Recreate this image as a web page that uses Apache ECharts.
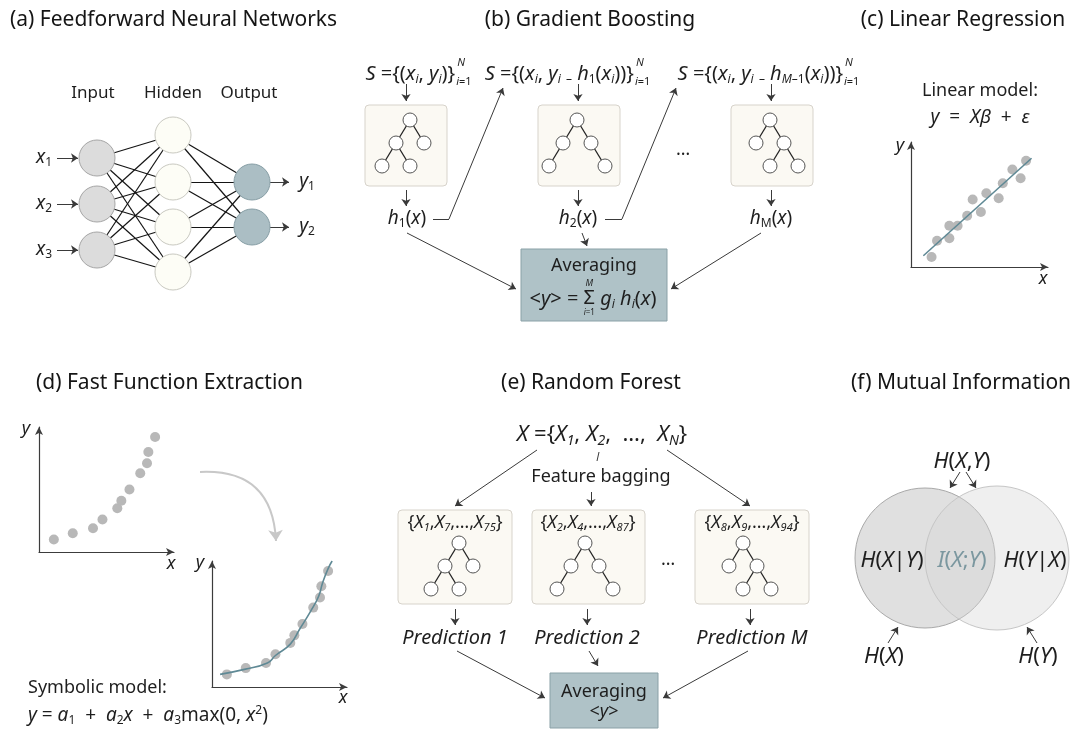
<!DOCTYPE html>
<html>
<head>
<meta charset="utf-8">
<script src="https://cdn.jsdelivr.net/npm/echarts@6/dist/echarts.min.js"></script>
<style>
  html, body { margin: 0; padding: 0; background: #ffffff; }
  #chart { width: 1089px; height: 729px; }
</style>
</head>
<body>
<div id="chart"></div>
<script>
// ---------- data ----------
// (a) feed-forward network, node centres on the layout plane
const inputNodes  = [[97, 158], [97, 204], [97, 250]];
const hiddenNodes = [[173, 135], [173, 182], [173, 227], [173, 272]];
const outputNodes = [[252, 182], [252, 227]];

// (c) linear regression sample and fitted line
const linX = [1.5, 1.9, 2.8, 2.8, 3.4, 4.1, 4.5, 5.1, 5.5, 6.4, 6.7, 7.4, 8.0, 8.4];
const linY = [0.8, 2.1, 2.3, 3.3, 3.3, 4.1, 5.4, 4.4, 5.9, 5.5, 6.7, 7.8, 7.1, 8.5];
const linFitX = [0.9, 8.8];
const linFitY = [0.9, 8.7];

// (d) sample for the symbolic fit and the fitted curve
const feX = [1.1, 2.5, 4.0, 4.7, 5.8, 6.1, 6.7, 7.5, 8.0, 8.1, 8.6];
const feY = [1.0, 1.5, 1.9, 2.6, 3.5, 4.1, 5.0, 6.3, 7.1, 8.0, 9.2];
const feCurveX = [0.6, 2.4, 4.1, 4.7, 5.8, 6.5, 7.3, 7.9, 8.2, 8.6, 8.9];
const feCurveY = [1.0, 1.4, 1.9, 2.5, 3.4, 4.6, 6.0, 7.2, 8.3, 9.4, 10.0];

// decision-tree panels [x0, y0, x1, y1] and their trees [rootX, rootY, shape]
const treeBoxes = [[365, 105, 447, 186], [538, 105, 620, 186], [731, 105, 813, 186],
                   [398, 510, 512, 604], [532, 510, 645, 604], [695, 510, 809, 604]];
const treeRoots = [[410, 120, 'A'], [577, 120, 'B'], [770, 120, 'C'],
                   [459, 543, 'A'], [585, 543, 'B'], [743, 543, 'C']];
const treeShapes = {
  A: { nodes: [[0, 0], [-1, 1], [1, 1], [-2, 2], [0, 2]], edges: [[0, 1], [0, 2], [1, 3], [1, 4]] },
  B: { nodes: [[0, 0], [-1, 1], [1, 1], [-2, 2], [2, 2]], edges: [[0, 1], [0, 2], [1, 3], [2, 4]] },
  C: { nodes: [[0, 0], [-1, 1], [1, 1], [0, 2], [2, 2]], edges: [[0, 1], [0, 2], [2, 3], [2, 4]] }
};
const averagingBoxes = [[521, 249, 667, 321], [550, 673, 658, 728]];

// connectors with an arrow head
const arrows = [
  [[57, 158], [78, 158]], [[57, 204], [78, 204]], [[57, 250], [78, 250]],
  [[270, 182], [289, 182]], [[270, 227], [289, 227]],
  [[406, 84], [406, 101]], [[578, 84], [578, 101]], [[771, 84], [771, 101]],
  [[406, 190], [406, 206]], [[578, 190], [578, 206]], [[771, 190], [771, 206]],
  [[449, 219], [503, 88]], [[622, 219], [676, 88]],
  [[407, 233], [516, 289]], [[582, 233], [587, 246]], [[761, 233], [671, 289]],
  [[591, 492], [591, 506]], [[537, 450], [455, 506]], [[667, 450], [750, 506]],
  [[455, 609], [455, 625]], [[587, 609], [587, 625]], [[750, 609], [750, 625]],
  [[457, 651], [545, 698]], [[589, 651], [598, 666]], [[748, 651], [663, 698]],
  [[960, 472], [950, 488]], [[966, 472], [976, 488]],
  [[888, 643], [898, 627]], [[1037, 643], [1027, 627]]
];
// connectors without a head
const plainLinks = [[[433, 219], [449, 219]], [[605, 219], [622, 219]], [[599, 452], [597, 461]]];
const bendArrow = [[[200, 472], [276, 541]]];

// (f) entropy circles [cx, cy, r]
const vennLeft = [925, 558, 70];
const vennRight = [997, 558, 72];

// ---------- styling ----------
const FONT = '"Noto Sans", Lato, "DejaVu Sans", sans-serif';
const INK = '#1e1e1e';
const TEAL = '#5f8995';
const DOT = '#b8b8b8';

function richSet(size, color) {
  const sub = Math.round(size * 0.62);
  const b = { fontFamily: FONT, fill: color };
  return {
    n:  Object.assign({}, b, { fontSize: size }),
    i:  Object.assign({}, b, { fontSize: size, fontStyle: 'italic' }),
    s:  Object.assign({}, b, { fontSize: sub, padding: [Math.round(size * 0.55), 0, 0, 0] }),
    si: Object.assign({}, b, { fontSize: sub, fontStyle: 'italic', padding: [Math.round(size * 0.55), 0, 0, 0] }),
    p:  Object.assign({}, b, { fontSize: sub, padding: [0, 0, Math.round(size * 0.6), 0] })
  };
}

// width of a rich string, used to place stacked limits next to formulas
const measureCtx = document.createElement('canvas').getContext('2d');
function richWidth(text, size, italic) {
  const rich = richSet(size, INK);
  const re = /\{([a-zA-Z0-9_]+)\|([^}]*)\}/g;
  let w = 0, last = 0, m;
  const base = { fontFamily: FONT, fontSize: size, fontStyle: italic ? 'italic' : 'normal' };
  const add = (str, st) => {
    if (!str) return;
    measureCtx.font = (st.fontStyle || 'normal') + ' ' + st.fontSize + 'px ' + st.fontFamily;
    w += measureCtx.measureText(str).width;
  };
  while ((m = re.exec(text))) { add(text.slice(last, m.index), base); add(m[2], rich[m[1]]); last = re.lastIndex; }
  add(text.slice(last), base);
  return w;
}

// text items: [x, y, text, size, align, color, italic]
const titles = [
  [10, 20, '(a) Feedforward Neural Networks', 21, 'left'],
  [590, 20, '(b) Gradient Boosting', 21, 'center'],
  [963, 20, '(c) Linear Regression', 21, 'center'],
  [36, 383, '(d) Fast Function Extraction', 21, 'left'],
  [591, 383, '(e) Random Forest', 21, 'center'],
  [961, 383, '(f) Mutual Information', 21, 'center']
];
const annotations = [
  // (a)
  [93, 93, 'Input', 17], [173, 93, 'Hidden', 17], [249, 93, 'Output', 17],
  [44, 158, '{i|x}{s|1}', 19], [44, 204, '{i|x}{s|2}', 19], [44, 250, '{i|x}{s|3}', 19],
  [307, 182, '{i|y}{s|1}', 19], [307, 227, '{i|y}{s|2}', 19],
  // (b)
  [407, 219, '{i|h}{s|1}({i|x})', 19], [578, 219, '{i|h}{s|2}({i|x})', 19], [771, 219, '{i|h}{s|M}({i|x})', 19],
  [683, 150, '…', 18],
  [594, 266, 'Averaging', 18],
  // (c)
  [980, 91, 'Linear model:', 18], [980, 118, '{i|y}  =  {i|Xβ}  +  {i|ε}', 19],
  [900, 146, 'y', 18, 'center', INK, true], [1043, 279, 'x', 18, 'center', INK, true],
  // (d)
  [26, 429, 'y', 18, 'center', INK, true], [171, 564, 'x', 18, 'center', INK, true],
  [200, 563, 'y', 18, 'center', INK, true], [343, 698, 'x', 18, 'center', INK, true],
  [28, 688, 'Symbolic model:', 18, 'left'],
  [28, 716, '{i|y} = {i|a}{s|1}  +  {i|a}{s|2}{i|x}  +  {i|a}{s|3}max(0, {i|x}{p|2})', 19, 'left'],
  // (e)
  [602, 435, '{i|X} ={{i|X}{si|1}, {i|X}{si|2},  …,  {i|X}{si|N}}', 22],
  [601, 477, 'Feature bagging', 18],
  [455, 523, '{{i|X}{si|1},{i|X}{si|7},…,{i|X}{si|75}}', 18],
  [588, 523, '{{i|X}{si|2},{i|X}{si|4},…,{i|X}{si|87}}', 18],
  [752, 523, '{{i|X}{si|8},{i|X}{si|9},…,{i|X}{si|94}}', 18],
  [668, 560, '…', 18],
  [455, 638, 'Prediction 1', 20, 'center', INK, true],
  [587, 638, 'Prediction 2', 20, 'center', INK, true],
  [752, 638, 'Prediction M', 20, 'center', INK, true],
  [604, 692, 'Averaging', 18], [604, 712, '<{i|y}>', 18],
  // (f)
  [962, 462, '{i|H}({i|X},{i|Y})', 22],
  [892, 561, '{i|H}({i|X}|{i|Y})', 22],
  [962, 561, '{i|I}({i|X};{i|Y})', 22, 'center', '#7b979f'],
  [1035, 561, '{i|H}({i|Y}|{i|X})', 22],
  [884, 657, '{i|H}({i|X})', 22], [1038, 657, '{i|H}({i|Y})', 22]
];

// (b) training sets with stacked limits: [centreX, y, set]
const trainingSets = [
  [419, 74, '{i|S} ={({i|x}{si|i}, {i|y}{si|i})}'],
  [568, 74, '{i|S} ={({i|x}{si|i}, {i|y}{si|i} {s|–} {i|h}{s|1}({i|x}{si|i}))}'],
  [769, 74, '{i|S} ={({i|x}{si|i}, {i|y}{si|i} {s|–} {i|h}{si|M}{s|–1}({i|x}{si|i}))}']
];
const SET_SIZE = 20;

function textEl(t, color0) {
  const color = t[5] || color0 || INK;
  return {
    type: 'text', x: t[0], y: t[1], z: 100,
    style: {
      text: t[2], fontFamily: FONT, fontSize: t[3], fontStyle: t[6] ? 'italic' : 'normal',
      fill: color, align: t[4] || 'center', verticalAlign: 'middle', rich: richSet(t[3], color)
    }
  };
}

const formulaTexts = [];
trainingSets.forEach(([cx, y, s]) => {
  const w = richWidth(s, SET_SIZE, false);
  const wl = richWidth('{i|i}=1', 11, false);
  const x0 = cx - (w + 2 + wl) / 2;
  formulaTexts.push([x0, y, s, SET_SIZE, 'left']);
  formulaTexts.push([x0 + w + 2, y - 11, 'N', 11, 'left', INK, true]);
  formulaTexts.push([x0 + w + 1, y + 8, '{i|i}=1', 11, 'left']);
});
// weighted sum inside the averaging box
(function () {
  const left = '<{i|y}> = ', right = ' {i|g}{si|i} {i|h}{si|i}({i|x})';
  const wl = richWidth(left, 20), ws = richWidth('Σ', 20), wr = richWidth(right, 20);
  const x0 = 593 - (wl + ws + wr) / 2;
  const sx = x0 + wl + ws / 2;
  formulaTexts.push([x0, 299, left, 20, 'left']);
  formulaTexts.push([sx, 298, 'Σ', 20, 'center']);
  formulaTexts.push([sx, 283, 'M', 9, 'center', INK, true]);
  formulaTexts.push([sx, 313, '{i|i}=1', 8, 'center']);
  formulaTexts.push([x0 + wl + ws, 299, right, 20, 'left']);
})();

// ---------- derived geometry ----------
function fullLinks(a, b) {
  const out = [];
  a.forEach(p => b.forEach(q => out.push({ coords: [p, q] })));
  return out;
}
const netLinks = fullLinks(inputNodes, hiddenNodes).concat(fullLinks(hiddenNodes, outputNodes));

const TREE_DX = 14, TREE_DY = 23;
const treeNodes = [], treeLinks = [];
treeRoots.forEach(([rx, ry, k]) => {
  const sh = treeShapes[k];
  const pts = sh.nodes.map(([i, j]) => [rx + i * TREE_DX, ry + j * TREE_DY]);
  pts.forEach(p => treeNodes.push(p));
  sh.edges.forEach(([a, b]) => treeLinks.push({ coords: [pts[a], pts[b]] }));
});

const zip = (xs, ys) => xs.map((x, i) => [x, ys[i]]);

// ---------- chart ----------
const chart = echarts.init(document.getElementById('chart'));

const plotAxis = {
  type: 'value', min: 0, max: 10,
  axisLine: { show: true, onZero: false, symbol: ['none', 'arrow'], symbolSize: [6, 8],
              lineStyle: { color: '#3c3c3c', width: 1.2 } },
  axisTick: { show: false }, axisLabel: { show: false }, splitLine: { show: false }
};
const plane = { type: 'value', show: false, splitLine: { show: false } };

function boxRenderer(fill, stroke, r) {
  return function (params, api) {
    const p0 = api.coord([api.value(0), api.value(1)]);
    const p1 = api.coord([api.value(2), api.value(3)]);
    return {
      type: 'rect',
      shape: { x: p0[0], y: p0[1], width: p1[0] - p0[0], height: p1[1] - p0[1], r: r },
      style: { fill: fill, stroke: stroke, lineWidth: 1 }
    };
  };
}
function dots(xi, data, size, style) {
  return { type: 'scatter', xAxisIndex: xi, yAxisIndex: xi, data: data, symbolSize: size,
           itemStyle: Object.assign({ opacity: 1 }, style), silent: true };
}

const option = {
  animation: false,
  backgroundColor: '#ffffff',
  grid: [
    { left: 0, top: 0, width: 1089, height: 729 },
    { left: 911, top: 142, width: 137, height: 125 },
    { left: 39, top: 427, width: 135, height: 125 },
    { left: 212, top: 561, width: 135, height: 126 }
  ],
  xAxis: [
    Object.assign({ gridIndex: 0, min: 0, max: 1089 }, plane),
    Object.assign({ gridIndex: 1 }, plotAxis),
    Object.assign({ gridIndex: 2 }, plotAxis),
    Object.assign({ gridIndex: 3 }, plotAxis)
  ],
  yAxis: [
    Object.assign({ gridIndex: 0, min: 0, max: 729, inverse: true }, plane),
    Object.assign({ gridIndex: 1 }, plotAxis),
    Object.assign({ gridIndex: 2 }, plotAxis),
    Object.assign({ gridIndex: 3 }, plotAxis)
  ],
  series: [
    // panels behind trees and averaging steps
    { type: 'custom', xAxisIndex: 0, yAxisIndex: 0, data: treeBoxes, encode: { x: [0, 2], y: [1, 3] },
      renderItem: boxRenderer('#fbf9f3', '#d7d3cb', 4), silent: true },
    { type: 'custom', xAxisIndex: 0, yAxisIndex: 0, data: averagingBoxes, encode: { x: [0, 2], y: [1, 3] },
      renderItem: boxRenderer('#afc2c7', '#8aa1a7', 0), silent: true },
    // (f) entropy circles
    dots(0, [vennLeft.slice(0, 2)], vennLeft[2] * 2, { color: '#e0e0e0', borderColor: '#a9a9a9', borderWidth: 1 }),
    dots(0, [vennRight.slice(0, 2)], vennRight[2] * 2, { color: 'rgba(214,214,214,0.38)', borderColor: '#c6c6c6', borderWidth: 1 }),
    // (a) network
    { type: 'lines', coordinateSystem: 'cartesian2d', xAxisIndex: 0, yAxisIndex: 0, data: netLinks,
      lineStyle: { color: '#141414', width: 1.2, opacity: 1 }, silent: true },
    dots(0, inputNodes, 36, { color: '#dcdcdc', borderColor: '#a6a6a6', borderWidth: 1 }),
    dots(0, hiddenNodes, 36, { color: '#fdfdf6', borderColor: '#c9c9c1', borderWidth: 1 }),
    dots(0, outputNodes, 36, { color: '#abbec4', borderColor: '#889fa6', borderWidth: 1 }),
    // decision trees
    { type: 'lines', coordinateSystem: 'cartesian2d', xAxisIndex: 0, yAxisIndex: 0, data: treeLinks,
      lineStyle: { color: '#222222', width: 1.3, opacity: 1 }, silent: true },
    dots(0, treeNodes, 14, { color: '#ffffff', borderColor: '#555555', borderWidth: 1 }),
    // connectors
    { type: 'lines', coordinateSystem: 'cartesian2d', xAxisIndex: 0, yAxisIndex: 0,
      data: arrows.map(c => ({ coords: c })), symbol: ['none', 'arrow'], symbolSize: 7,
      lineStyle: { color: '#3a3a3a', width: 1, opacity: 1 }, silent: true },
    { type: 'lines', coordinateSystem: 'cartesian2d', xAxisIndex: 0, yAxisIndex: 0,
      data: plainLinks.map(c => ({ coords: c })),
      lineStyle: { color: '#3a3a3a', width: 1, opacity: 1 }, silent: true },
    { type: 'lines', coordinateSystem: 'cartesian2d', xAxisIndex: 0, yAxisIndex: 0,
      data: bendArrow.map(c => ({ coords: c })), symbol: ['none', 'arrow'], symbolSize: 11,
      lineStyle: { color: '#c8c8c8', width: 2, opacity: 1, curveness: 0.5 }, silent: true },
    // (c) linear regression
    dots(1, zip(linX, linY), 10, { color: DOT }),
    { type: 'line', xAxisIndex: 1, yAxisIndex: 1, data: zip(linFitX, linFitY), showSymbol: false,
      lineStyle: { color: TEAL, width: 1.6 }, silent: true, z: 3 },
    // (d) raw sample, then sample with fitted curve
    dots(2, zip(feX, feY), 10, { color: DOT }),
    dots(3, zip(feX, feY), 10, { color: DOT }),
    { type: 'line', xAxisIndex: 3, yAxisIndex: 3, data: zip(feCurveX, feCurveY), showSymbol: false,
      smooth: true, lineStyle: { color: TEAL, width: 1.6 }, silent: true, z: 3 }
  ],
  graphic: titles.map(t => textEl(t, '#151515'))
    .concat(annotations.map(t => textEl(t)))
    .concat(formulaTexts.map(t => textEl(t)))
};

chart.setOption(option);
</script>
</body>
</html>
